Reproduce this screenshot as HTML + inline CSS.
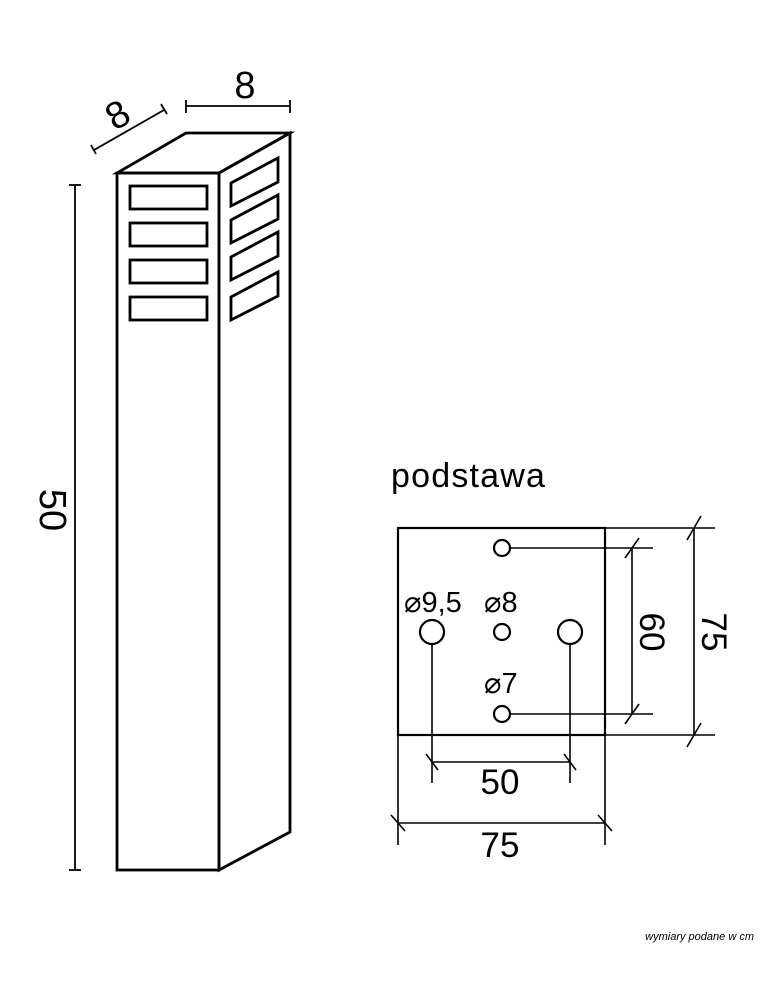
<!DOCTYPE html>
<html><head><style>body{margin:0;background:#fff}svg{display:block}</style></head><body>
<svg width="774" height="1000" viewBox="0 0 774 1000" xmlns="http://www.w3.org/2000/svg" font-family="Liberation Sans, sans-serif">
<g fill="none" stroke="#000" stroke-width="2.8" stroke-linejoin="miter">
<polygon points="117,173 186,133 290,133 219,173"/>
<rect x="117" y="173" width="102" height="697"/>
<polygon points="219,173 290,133 290,832 219,870"/>
<rect x="130" y="186" width="77" height="23"/>
<rect x="130" y="223" width="77" height="23"/>
<rect x="130" y="260" width="77" height="23"/>
<rect x="130" y="297" width="77" height="23"/>
<polygon points="231,183 278,158 278,182 231,206"/>
<polygon points="231,220 278,195 278,219 231,243"/>
<polygon points="231,257 278,232 278,256 231,280"/>
<polygon points="231,297 278,272 278,296 231,320"/>
</g>
<g stroke="#000" stroke-width="1.8" fill="none">
<line x1="75" y1="185" x2="75" y2="870"/><line x1="69" y1="185" x2="81" y2="185"/><line x1="69" y1="870" x2="81" y2="870"/>
<line x1="186" y1="106" x2="290" y2="106"/><line x1="186" y1="100" x2="186" y2="113"/><line x1="290" y1="100" x2="290" y2="113"/>
<line x1="94" y1="150" x2="164" y2="110"/><line x1="91" y1="145" x2="96" y2="154"/><line x1="161" y1="104" x2="167" y2="114"/>
</g>
<text x="245" y="98" font-size="38" text-anchor="middle">8</text>
<text transform="translate(124,126) rotate(-30)" font-size="38" text-anchor="middle">8</text>
<text transform="translate(40,510) rotate(90)" font-size="38" text-anchor="middle">50</text>
<text x="391" y="487" font-size="34" letter-spacing="1.2">podstawa</text>
<g stroke="#000" fill="none">
<rect x="398" y="528" width="207" height="207" stroke-width="2.2"/>
<g stroke-width="1.6">
<line x1="605" y1="528" x2="715" y2="528"/><line x1="605" y1="735" x2="715" y2="735"/>
<line x1="694" y1="528" x2="694" y2="735"/><line x1="687" y1="540" x2="701" y2="516"/><line x1="687" y1="747" x2="701" y2="723"/>
<line x1="510" y1="548" x2="653" y2="548"/><line x1="510" y1="714" x2="653" y2="714"/>
<line x1="632" y1="548" x2="632" y2="714"/><line x1="625" y1="558" x2="639" y2="538"/><line x1="625" y1="724" x2="639" y2="704"/>
<line x1="432" y1="644" x2="432" y2="783"/><line x1="570" y1="644" x2="570" y2="783"/>
<line x1="432" y1="762" x2="570" y2="762"/><line x1="426" y1="754" x2="438" y2="770"/><line x1="564" y1="754" x2="576" y2="770"/>
<line x1="398" y1="735" x2="398" y2="845"/><line x1="605" y1="735" x2="605" y2="845"/>
<line x1="398" y1="823" x2="605" y2="823"/><line x1="391" y1="815" x2="405" y2="831"/><line x1="598" y1="815" x2="612" y2="831"/>
</g>
<g stroke-width="2.2">
<circle cx="502" cy="548" r="8"/><circle cx="502" cy="714" r="8"/><circle cx="502" cy="632" r="8"/>
<circle cx="432" cy="632" r="12"/><circle cx="570" cy="632" r="12"/>
</g>
</g>
<text x="404" y="612" font-size="29">⌀9,5</text>
<text x="484" y="612" font-size="29">⌀8</text>
<text x="484" y="693" font-size="29">⌀7</text>
<text x="500" y="794" font-size="35" text-anchor="middle">50</text>
<text x="500" y="857" font-size="35" text-anchor="middle">75</text>
<text transform="translate(640,632) rotate(90)" font-size="35" text-anchor="middle">60</text>
<text transform="translate(702,632) rotate(90)" font-size="35" text-anchor="middle">75</text>
<text x="754" y="940" font-size="11" font-style="italic" text-anchor="end">wymiary podane w cm</text>
</svg>
</body></html>
